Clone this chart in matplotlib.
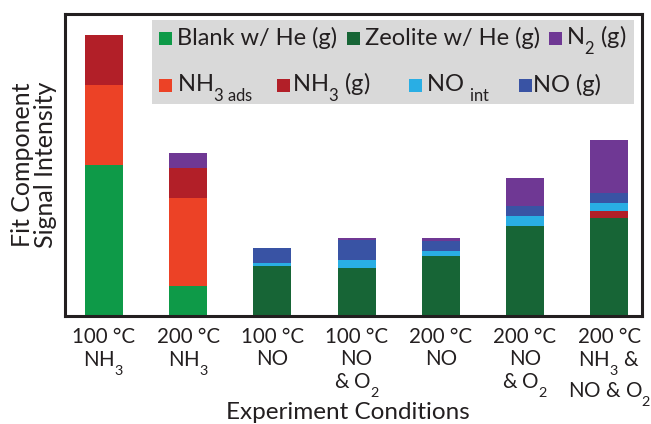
import matplotlib
matplotlib.use('Agg')
import matplotlib.pyplot as plt
from matplotlib.patches import Rectangle
import numpy as np

plt.rcParams['font.family'] = ['Lato', 'DejaVu Sans']
plt.rcParams['mathtext.fontset'] = 'custom'
plt.rcParams['mathtext.rm'] = 'Lato'
plt.rcParams['mathtext.it'] = 'Lato:italic'
plt.rcParams['mathtext.bf'] = 'Lato:bold'
plt.rcParams['mathtext.default'] = 'regular'
# lower subscripts (like the reference's typesetting)
try:
    import matplotlib._mathtext as _mt
    _mt.FontConstantsBase.sub1 = 0.85
except Exception:
    pass

# ---- data ----
conditions = ["100 °C\nNH$_3$", "200 °C\nNH$_3$", "100 °C\nNO",
              "100 °C\nNO\n& O$_2$", "200 °C\nNO", "200 °C\nNO\n& O$_2$",
              "200 °C\nNH$_3$ &\nNO & O$_2$"]
blank_he = [151, 30, 0, 0, 0, 0, 0]
zeolite_he = [0, 0, 50, 48, 60, 90, 98]
nh3_ads = [80, 88, 0, 0, 0, 0, 0]
nh3_g = [50, 30, 0, 0, 0, 0, 7]
no_int = [0, 0, 3, 8, 5, 10, 8]
no_g = [0, 0, 15, 20, 10, 10, 10]
n2_g = [0, 15.5, 0, 2, 2.5, 28, 53]

series_names = ["Blank w/ He (g)", "Zeolite w/ He (g)", "NH$_{3\\ ads}$",
                "NH$_3$ (g)", "NO $_{int}$", "NO (g)", "N$_2$ (g)"]
series_values = [blank_he, zeolite_he, nh3_ads, nh3_g, no_int, no_g, n2_g]
colors = ["#0e9a48", "#176536", "#ec4226", "#b21f28", "#29aee4", "#3953a4", "#6f3894"]

W, H = 651, 424
fig = plt.figure(figsize=(W / 100, H / 100), dpi=100)
ax = fig.add_axes([65 / W, 1 - 316 / H, (642 - 65) / W, (316 - 14) / H])

x = np.arange(len(conditions))
bottom = np.zeros(len(conditions))
for vals, col in zip(series_values, colors):
    v = np.array(vals, dtype=float)
    ax.bar(x, v, width=0.45, bottom=bottom, color=col, edgecolor='none', zorder=2)
    bottom += v

ax.set_xlim(-0.463, 6.39)
ax.set_ylim(0, 302)
ax.set_yticks([])
ax.set_xticks(x)
ax.set_xticklabels(conditions, fontsize=14.8, linespacing=1.14, color='#231f20')
ax.tick_params(axis='x', length=0, pad=8)
for s in ax.spines.values():
    s.set_linewidth(2.2)
    s.set_color('#231f20')

ax.set_xlabel("Experiment Conditions", fontsize=17.5, color='#231f20')
ax.xaxis.set_label_coords(0.49, (316 - 419) / 302)
ax.xaxis.label.set_va('baseline')
ax.set_ylabel("Fit Component\nSignal Intensity", fontsize=18, linespacing=1.0,
              color='#231f20')
ax.yaxis.set_label_coords(-(65 - 53) / 577, 0.5)
ax.yaxis.label.set_va('baseline')


# ---- legend (manual, pixel positions) ----
def fx(px):
    return px / W


def fy(py):
    return 1 - py / H


fig.patches.append(Rectangle((fx(152), fy(104)), fx(634) - fx(152), fy(20) - fy(104),
                             transform=fig.transFigure, facecolor='#d9d9d9',
                             edgecolor='none', zorder=1))

legend_layout = [  # (series index, square x, text x, baseline y)
    (0, 159, 177, 45), (1, 347, 365, 45), (6, 549, 566, 45),
    (2, 159, 177, 92), (3, 277, 292, 92), (4, 409, 426, 92), (5, 519, 533, 92),
]
for idx, sqx, tx, by in legend_layout:
    fig.patches.append(Rectangle((fx(sqx), fy(by)), 13 / W, 13 / H,
                                 transform=fig.transFigure, facecolor=colors[idx],
                                 edgecolor='none', zorder=2))
    fig.text(fx(tx), fy(by), series_names[idx], fontsize=17, va='baseline',
             ha='left', color='#231f20', zorder=3)

fig.savefig('out.png', dpi=100)
